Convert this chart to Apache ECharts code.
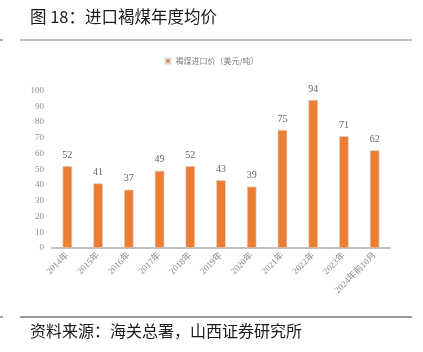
<!DOCTYPE html>
<html>
<head>
<meta charset="utf-8">
<script src="https://cdn.jsdelivr.net/npm/echarts@6/dist/echarts.min.js"></script>
<style>
  html,body{margin:0;padding:0;background:#fff;}
  #chart{width:423px;height:352px;}
</style>
</head>
<body>
<div id="chart"></div>
<script>
  // ===== Dados =====
  const categorias = ['2014年','2015年','2016年','2017年','2018年','2019年','2020年','2021年','2022年','2023年','2024年前10月'];
  const precos = [52, 41, 37, 49, 52, 43, 39, 75, 94, 71, 62];
  const nomeSerie = '褐煤进口价（美元/吨）';

  const chart = echarts.init(document.getElementById('chart'), null, {renderer:'canvas'});
  const serif = '"Liberation Serif","DejaVu Serif","Noto Sans CJK SC",serif';
  const cjk = '"Noto Sans CJK SC",sans-serif';

  chart.setOption({
    animation:false,
    backgroundColor:'#fff',
    graphic:[
      {type:'text', left:30, top:8, style:{text:'图 18：进口褐煤年度均价', font:'normal 16.5px '+cjk, fill:'#1a1a1a'}},
      {type:'line', shape:{x1:20,y1:40,x2:412,y2:40}, style:{stroke:'#7f7f7f', lineWidth:1.2}},
      {type:'line', shape:{x1:0,y1:40,x2:3,y2:40}, style:{stroke:'#555', lineWidth:1}},
      {type:'line', shape:{x1:20,y1:317,x2:412,y2:317}, style:{stroke:'#333', lineWidth:1.2}},
      {type:'line', shape:{x1:0,y1:317,x2:3,y2:317}, style:{stroke:'#555', lineWidth:1}},
      {type:'text', left:30, top:323, style:{text:'资料来源：海关总署，山西证券研究所', font:'normal 16px '+cjk, fill:'#1a1a1a'}}
    ],
    legend:{
      top:52, left:'center',
      itemWidth:5, itemHeight:5, itemGap:4,
      icon:'rect',
      textStyle:{fontSize:8, color:'#808080', fontFamily:cjk},
      data:[nomeSerie]
    },
    grid:{left:52, right:33, top:90.5, bottom:104},
    xAxis:{
      type:'category', data:categorias,
      axisLine:{lineStyle:{color:'#bfbfbf', width:2}},
      axisTick:{show:false},
      axisLabel:{rotate:45, interval:0, fontSize:9, color:'#8c8c8c', fontFamily:serif, margin:6}
    },
    yAxis:{
      type:'value', min:0, max:100, interval:10,
      axisLine:{show:false}, axisTick:{show:false}, splitLine:{show:false},
      axisLabel:{fontSize:9, color:'#8c8c8c', fontFamily:serif, margin:8}
    },
    series:[{
      name:nomeSerie, type:'bar', data:precos, barWidth:9.5,
      itemStyle:{color:'#ed7d31', borderColor:'#d9d9d9', borderWidth:0.6},
      label:{show:true, position:'top', distance:6, fontSize:10, color:'#666', fontFamily:serif}
    }]
  });
</script>
</body>
</html>
